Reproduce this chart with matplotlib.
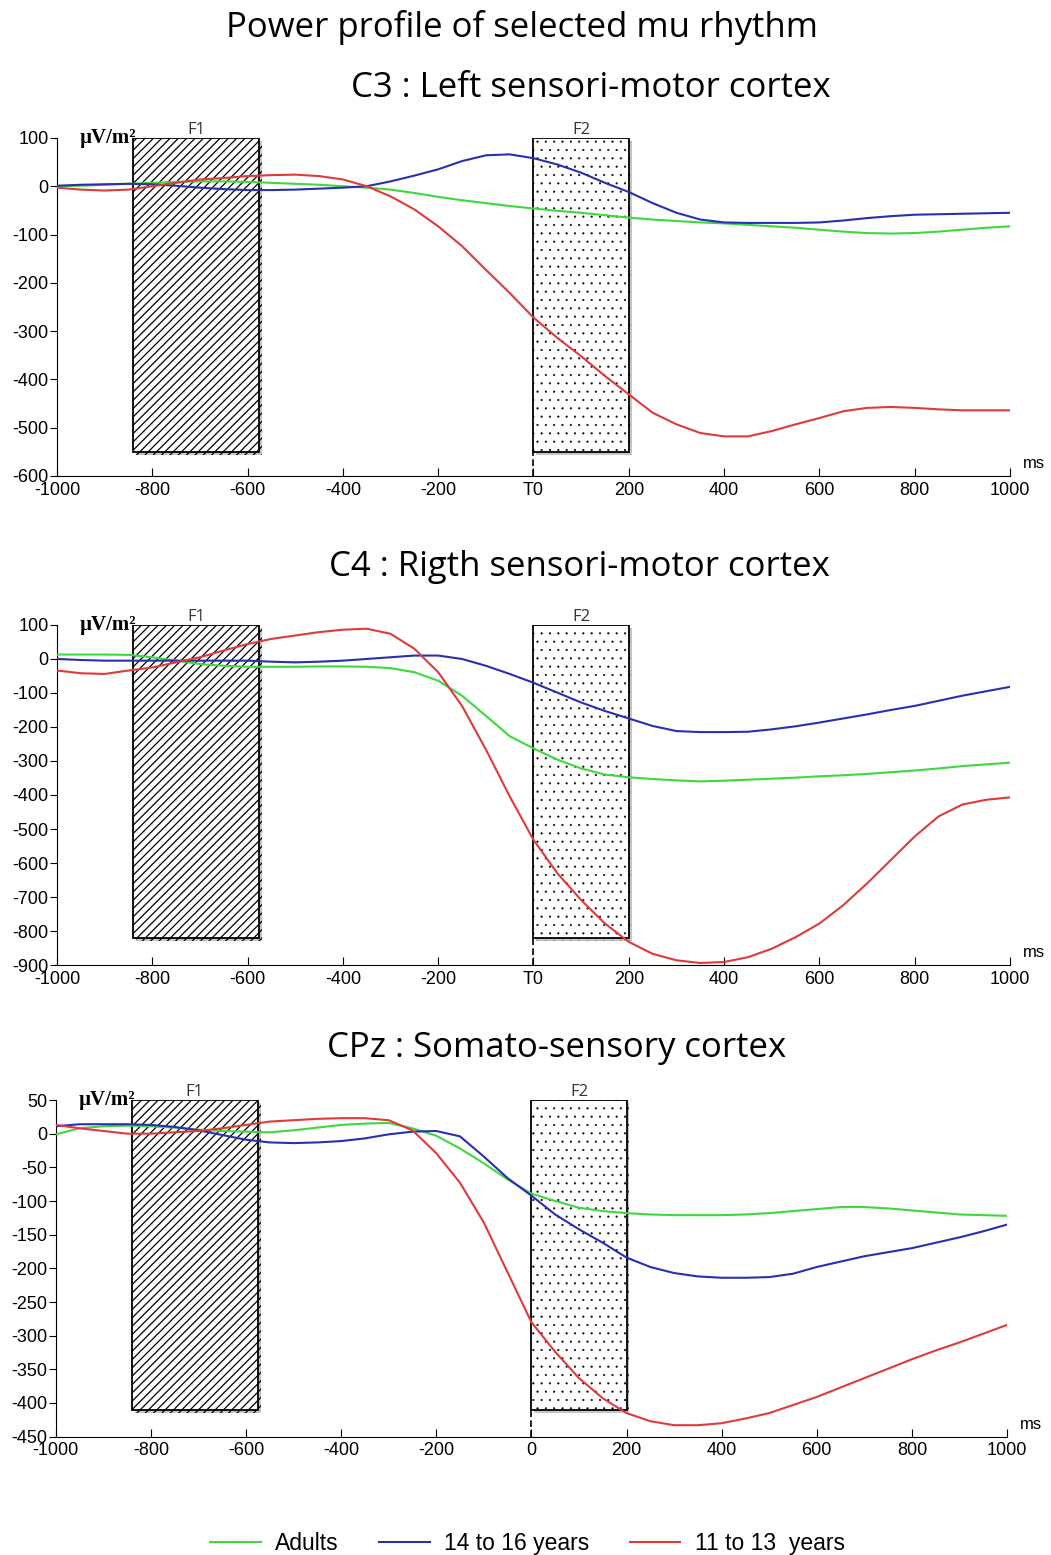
import numpy as np
import matplotlib.pyplot as plt
from matplotlib.patches import Rectangle
import matplotlib.patheffects as pe

plt.rcParams['font.family'] = ['Liberation Sans', 'DejaVu Sans']
plt.rcParams['axes.unicode_minus'] = False

# time axis, samples read every 50 ms
time_ms = np.arange(-1000, 1001, 50)

# C3 : left sensori-motor cortex
c3_adults = [0, 1, 3, 5, 7, 9, 10, 10, 9, 7, 5, 3, 0, -3, -7, -14, -22, -29, -35, -41, -46,
             -51, -55, -60, -65, -69, -72, -75, -77, -80, -83, -86, -90, -94, -97, -98, -97, -94, -90, -86, -83]
c3_teens = [1, 3, 4, 5, 4, 1, -3, -6, -8, -8, -7, -5, -3, 0, 10, 22, 35, 52, 64, 66, 58,
            45, 28, 7, -12, -35, -55, -69, -75, -76, -76, -76, -75, -71, -66, -62, -59, -58, -57, -56, -55]
c3_kids = [-3, -7, -9, -7, 0, 7, 14, 17, 21, 23, 24, 21, 14, 0, -21, -48, -83, -124, -173, -221, -272,
           -314, -352, -393, -431, -469, -493, -511, -518, -518, -507, -493, -480, -466, -459, -457, -459, -462, -464, -464, -464]

# C4 : right sensori-motor cortex
c4_adults = [13, 13, 13, 12, 5, -5, -15, -20, -23, -23, -23, -22, -22, -23, -27, -39, -64, -108, -167, -227, -263,
             -296, -322, -340, -348, -353, -357, -360, -358, -355, -352, -349, -345, -342, -338, -333, -328, -322, -315, -310, -305]
c4_teens = [0, -3, -5, -5, -5, -5, -5, -5, -5, -8, -10, -8, -5, 0, 5, 10, 10, 0, -20, -44, -70,
            -99, -128, -153, -175, -197, -212, -215, -215, -214, -207, -198, -187, -175, -163, -150, -138, -123, -108, -95, -82]
c4_kids = [-34, -42, -44, -34, -25, -10, 5, 25, 44, 59, 69, 79, 86, 89, 74, 30, -39, -138, -266, -404, -532,
           -630, -709, -778, -832, -867, -886, -894, -891, -877, -852, -818, -778, -724, -660, -591, -522, -463, -428, -414, -407]

# CPz : somato-sensory cortex
cpz_adults = [-1, 8, 11, 12, 11, 9, 6, 4, 3, 2, 5, 9, 13, 15, 16, 8, -3, -22, -44, -68, -89,
              -100, -110, -115, -118, -120, -121, -121, -121, -120, -118, -115, -112, -109, -109, -111, -114, -117, -120, -121, -122]
cpz_teens = [11, 14, 14, 14, 13, 10, 5, -2, -9, -13, -14, -13, -11, -7, -1, 3, 4, -4, -34, -66, -92,
             -120, -142, -162, -184, -198, -207, -212, -214, -214, -213, -208, -198, -190, -182, -176, -170, -162, -154, -145, -135]
cpz_kids = [13, 8, 4, 0, 0, 2, 4, 8, 13, 18, 20, 22, 23, 23, 20, 5, -29, -73, -132, -206, -280,
            -324, -363, -393, -415, -427, -433, -433, -430, -423, -415, -403, -391, -377, -363, -349, -335, -322, -310, -297, -284]

group_labels = ['Adults', '14 to 16 years', '11 to 13  years']
panel_titles = ['C3 : Left sensori-motor cortex', 'C4 : Rigth sensori-motor cortex', 'CPz : Somato-sensory cortex']
y_limits = [(-600, 100), (-900, 100), (-450, 50)]
y_steps = [100, 100, 50]
f1_window = (-840, -575)
f2_window = (0, 200)
box_bottoms = [-550, -820, -410]
zero_labels = ['T0', 'T0', '0']

series = [(c3_adults, c3_teens, c3_kids),
          (c4_adults, c4_teens, c4_kids),
          (cpz_adults, cpz_teens, cpz_kids)]
colors = ['#3fd83f', '#2a2fb0', '#e03a3a']

fig = plt.figure(figsize=(10.51, 15.55), dpi=100)
rects = [(0.0542, 0.6939, 0.9068, 0.2174),
         (0.0542, 0.3794, 0.9068, 0.2187),
         (0.0530, 0.0761, 0.9052, 0.2165)]
title_pos = [(0.562, 0.9434), (0.551, 0.6354), (0.530, 0.3260)]


def make_box(x0, x1, bottom, top, hatch, hatch_lw):
    plt.rcParams['hatch.linewidth'] = hatch_lw
    box = Rectangle((x0, bottom), x1 - x0, top - bottom, facecolor='white', edgecolor='black',
                    hatch=hatch, lw=1.3, zorder=1)
    if hasattr(box, 'set_hatch_linewidth'):
        box.set_hatch_linewidth(hatch_lw)
    box.set_path_effects([pe.SimplePatchShadow(offset=(2, -2), shadow_rgbFace='0.55', alpha=0.5),
                          pe.Normal()])
    return box


handles = []
for i in range(3):
    ax = fig.add_axes(rects[i])
    lo, hi = y_limits[i]
    ax.set_xlim(-1000, 1000)
    ax.set_ylim(lo, hi)

    ax.add_patch(make_box(f1_window[0], f1_window[1], box_bottoms[i], hi, '////', 0.9))
    ax.add_patch(make_box(f2_window[0], f2_window[1], box_bottoms[i], hi, '..', 0.3))
    ax.text(sum(f1_window) / 2, hi, 'F1', ha='center', va='bottom', fontsize=12, color='#333333',
            family='Open Sans')
    ax.text(sum(f2_window) / 2, hi, 'F2', ha='center', va='bottom', fontsize=12, color='#333333',
            family='Open Sans')
    ax.vlines(0, lo, box_bottoms[i], colors='black', linestyles=(0, (4, 2)), lw=1.2, zorder=2)

    for vals, col, lab in zip(series[i], colors, group_labels):
        ln, = ax.plot(time_ms, vals, color=col, lw=1.5, label=lab, zorder=3)
        if i == 0:
            handles.append(ln)

    ax.spines['top'].set_visible(False)
    ax.spines['right'].set_visible(False)
    ax.set_yticks(np.arange(lo, hi + 1, y_steps[i]))
    xt = np.arange(-1000, 1001, 200)
    ax.set_xticks(xt)
    ax.set_xticklabels([zero_labels[i] if v == 0 else str(v) for v in xt])
    ax.tick_params(axis='x', direction='in', length=6, pad=4, labelsize=13)
    ax.tick_params(axis='y', direction='out', length=5, pad=1, labelsize=13)
    ax.text(0.024, 1.0, 'µV/m²', transform=ax.transAxes, ha='left', va='center',
            fontsize=15, fontweight='bold', family='Liberation Serif')
    ax.text(1.014, 0.015, 'ms', transform=ax.transAxes, ha='left', va='bottom', fontsize=12)
    fig.text(title_pos[i][0], title_pos[i][1], panel_titles[i], ha='center', va='center',
             fontsize=25, family='Open Sans')

fig.text(0.4967, 0.9826, 'Power profile of selected mu rhythm', ha='center', va='center',
         fontsize=25, family='Open Sans')
fig.legend(handles=handles, loc='center', bbox_to_anchor=(0.502, 0.0077), ncol=3, frameon=False,
           fontsize=16.5, handlelength=2.2, columnspacing=1.75, handletextpad=0.65)

fig.savefig('out.png', dpi=100)
